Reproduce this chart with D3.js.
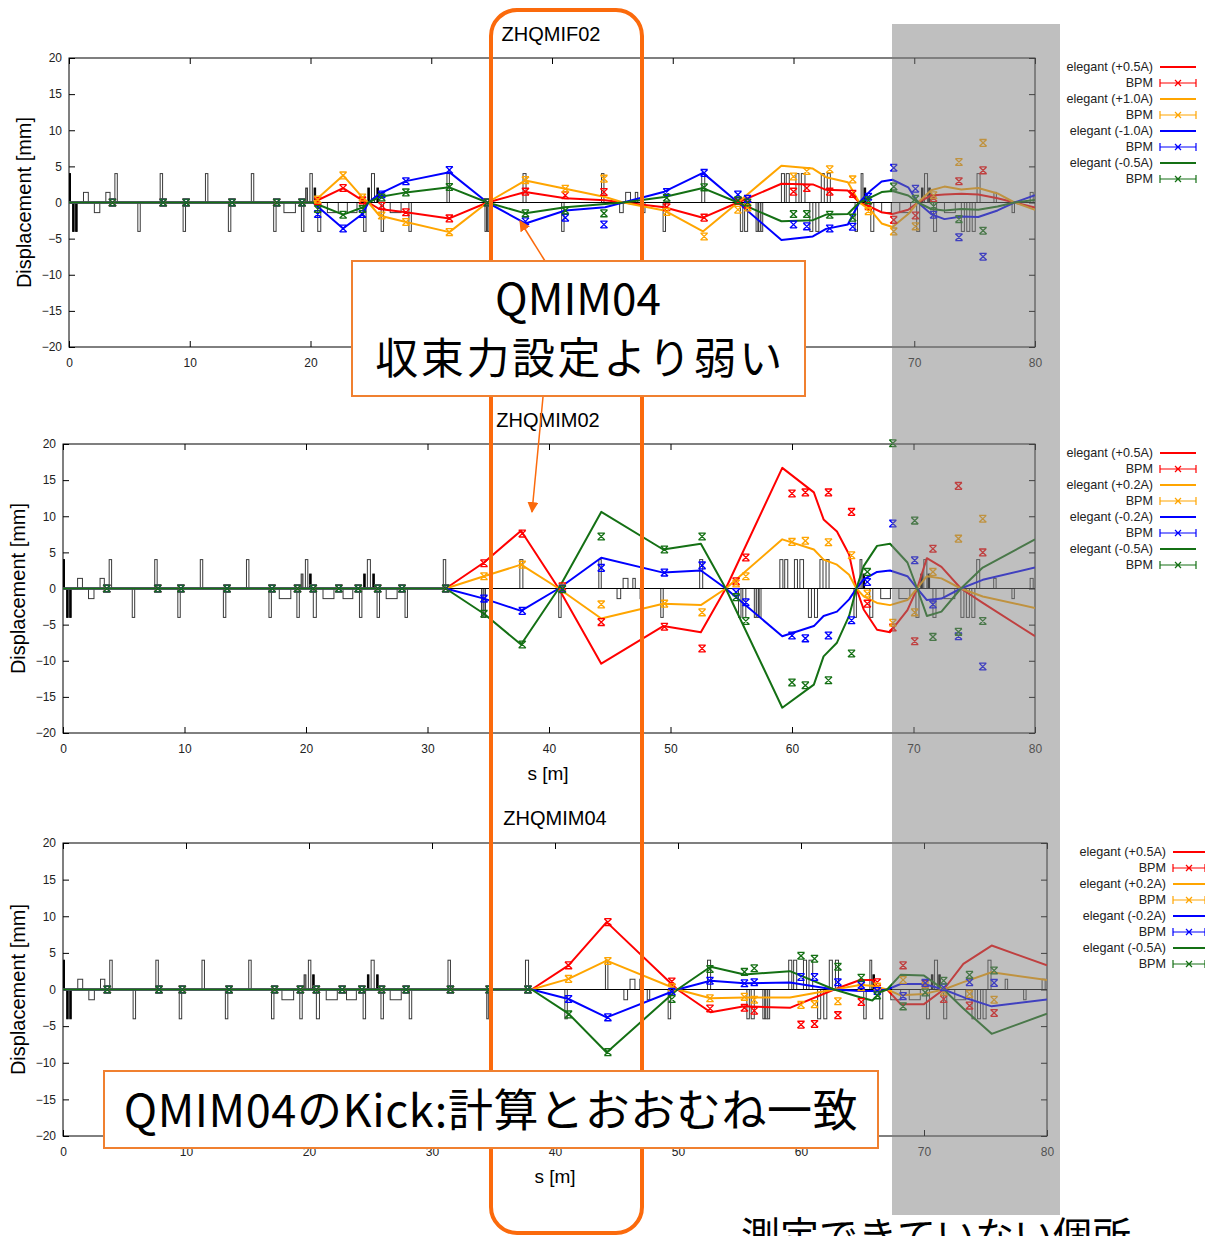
<!DOCTYPE html>
<html><head><meta charset="utf-8">
<script src="https://cdn.jsdelivr.net/npm/d3@7"></script>
<style>body{margin:0;background:#fff;} svg{display:block;}</style>
</head><body>
<svg id="c" width="1205" height="1236"></svg>
<script>
// ---------------- data ----------------
const seriesColors = ["#ff0000", "#ffa500", "#0000ff", "#147014"];
const legendLabels1 = ["elegant (+0.5A)", "elegant (+1.0A)", "elegant (-1.0A)", "elegant (-0.5A)"];
const legendLabels23 = ["elegant (+0.5A)", "elegant (+0.2A)", "elegant (-0.2A)", "elegant (-0.5A)"];
const panelTitles = ["ZHQMIF02", "ZHQMIM02", "ZHQMIM04"];
const xTicks = [0, 10, 20, 30, 40, 50, 60, 70, 80];
const xTickLabelsPanel1 = [0, 10, 20, 70, 80];   // 30-60 are hidden behind the note box
const yTicks = [-20, -15, -10, -5, 0, 5, 10, 15, 20];

// beamline elements (start s, end s, height in mm, kind)
const elemS0 = [0.0,0.3,0.55,1.2,2.1,3.05,3.8,5.7,7.55,9.45,11.3,13.2,15.1,16.95,17.8,19.25,19.6,19.95,20.3,20.6,21.4,23.05,24.4,24.75,25.05,25.5,25.85,26.6,28.15,31.3,34.45,34.65,37.6,40.8,44.1,45.6,46.1,46.9,47.5,49.2,52.4,55.6,55.95,56.9,57.1,57.3,59.0,59.4,60.2,60.65,61.35,61.85,62.3,62.8,65.1,65.6,65.85,66.4,67.3,68.8,70.2,70.6,70.85,71.2,71.6,72.5,73.9,74.35,74.8,75.2,76.6,78.1,79.6];
const elemS1 = [0.12,0.4,0.65,1.6,2.55,3.4,4.0,5.9,7.75,9.65,11.5,13.4,15.3,17.15,18.75,19.45,19.75,20.15,20.35,20.85,22.3,23.85,24.6,24.8,25.3,25.55,26.05,27.5,28.35,31.5,34.55,34.75,37.85,41.0,44.3,45.9,46.5,47.1,47.7,49.4,52.65,55.8,56.2,57.05,57.25,57.45,59.25,59.65,60.45,60.95,61.6,62.1,62.55,63.05,65.3,65.75,65.95,66.65,68.1,69.7,70.45,70.65,71.1,71.25,71.85,73.4,74.15,74.6,75.05,75.45,76.8,78.3,79.85];
const elemH = [4,-4,-4,1.4,-1.4,1.4,4,-4,4,-4,4,-4,4,-4,-1.4,-4,2,4,2,-4,-1.4,-1.4,-4,2,4,2,-4,-1.4,-4,4,-4,-4,4,-4,4,-1.4,1.4,1.4,-1.4,-4,4,-4,-4,-4,-4,-4,4,4,4,4,-4,-4,4,4,-4,4,2,-4,-1.4,-1.4,-4,2,4,2,-4,-1.4,-4,-4,-4,4,1.4,-1.4,1.4];
const elemKind = ["k","k","k","w","w","w","w","w","w","w","w","w","w","w","w","w","g","w","k","w","w","w","w","k","w","k",
  "w","w","w","w","w","w","w","w","w","w","w","w","w","w","w","w","w","w","w","w","w","w","w","w","w","w","w","w","w","w",
  "k","w","w","w","w","k","w","k","w","w","w","w","w","w","w","w","w"];

// BPM positions
const bpmS = [3.6,7.8,9.7,13.5,17.2,19.3,20.6,22.7,24.3,25.9,27.9,31.5,34.65,37.8,41.1,44.3,49.5,52.6,55.4,56.2,60.0,61.1,63.0,64.9,66.2,68.3,70.1,71.6,73.7,75.7];

// Panel 1 (ZHQMIF02) simulation
const sim1S = [0,20.2,22.7,24.3,24.8,25.7,27.9,31.5,34.65,37.8,41.1,44.4,45.9,49.3,52.5,55.4,59.0,61.6,62.7,64.5,65.45,66.4,67.3,68.2,69.5,70.3,71.4,72.5,73.9,75.3,76.9,78.3,80];
const sim1Red    = [0,0,2.0,0.3,0,-0.9,-1.35,-2.2,0,1.45,0.6,0.3,0,-0.65,-2.1,0,2.6,2.5,1.75,1.65,0,-0.65,-1.35,-1.6,-1.0,0,0.97,1.1,1.2,1.1,0.6,0,-0.7];
const sim1Orange = [0,0,3.75,0.7,0,-1.8,-2.7,-4.1,0,3.05,1.9,0.75,0,-1.1,-4.0,0,5.1,4.7,3.5,2.8,0,-1.1,-2.9,-3.4,-1.6,0,1.7,2.2,1.8,2.0,1.25,0,-1.0];
const sim1Blue   = [0,0,-3.6,-1.6,0,1.2,2.96,4.2,0,-2.9,-1.1,-0.65,0,1.5,4.1,0,-5.2,-4.7,-3.65,-3.05,0,1.67,2.9,3.15,2.1,0,-1.6,-2.3,-1.95,-2.0,-1.1,0,1.0];
const sim1Green  = [0,0,-1.67,-0.7,0,0.75,1.4,2.1,0,-1.5,-0.65,-0.2,0,0.75,2.0,0,-2.6,-2.45,-1.67,-1.6,0,0.7,1.45,1.6,0.97,0,-0.9,-1.1,-0.9,-1.0,-0.55,0,0.35];
// Panel 1 BPM
const bpm1Red    = [0,0,0,0,0,0,0.2,2.0,0.3,-0.45,-1.35,-2.2,0,1.5,1.0,1.45,-0.65,-2.1,0.2,-0.3,1.5,2.0,1.5,1.2,-0.5,-2.4,-1.8,0.6,2.95,4.45];
const bpm1Orange = [0,0,0,0,0,0,0.4,3.75,0.7,-1.8,-2.7,-4.1,0,3.1,1.9,3.3,-1.3,-4.7,-1.0,-0.7,3.6,4.35,4.6,3.2,-1.2,-4.0,-3.3,1.0,5.6,8.25];
const bpm1Blue   = [0,0,0,0,0,0,-1.6,-3.6,-1.6,1.1,2.95,4.5,0,-2.6,-2.1,-3.05,1.45,4.1,1.1,0.5,-3.05,-3.3,-3.6,-3.35,0.8,4.8,1.9,-1.7,-4.8,-7.5];
const bpm1Green  = [0,0,0,0,0,0,-0.9,-1.7,-0.9,0.7,1.4,2.15,0,-1.5,-1.1,-1.5,0.65,2.1,0.3,0,-1.6,-1.6,-1.7,-2.1,0.3,2.2,0.5,-0.5,-2.3,-3.9];

// Panel 2 (ZHQMIM02) simulation
const sim2S = [0,31.5,34.65,37.7,40.8,44.3,49.4,52.5,54.55,59.2,61.8,62.6,63.7,64.7,65.3,65.9,67.0,68.07,69.5,70.3,71.1,72.3,73.9,75.7,80];
const sim2Red    = [0,0,3.6,8.0,0,-10.4,-5.2,-6.05,0,16.7,13.3,9.56,7.9,4.7,0,-2.9,-5.7,-6.05,-3.0,0,4.2,3.0,0,-2.0,-6.6];
const sim2Orange = [0,0,1.7,3.3,0,-4.15,-2.1,-2.3,0,6.8,5.4,4.0,3.3,1.9,0,-1.1,-2.0,-2.3,-1.6,0,1.7,1.4,0,-1.1,-2.7];
const sim2Blue   = [0,0,-1.4,-3.1,0,4.25,2.2,2.5,0,-6.6,-5.2,-3.8,-3.2,-1.5,0,1.25,2.3,2.5,1.7,0,-1.6,-1.4,0,1.2,2.9];
const sim2Green  = [0,0,-3.5,-7.75,0,10.6,5.4,6.2,0,-16.5,-13.3,-9.4,-7.5,-3.8,0,3.1,5.9,6.2,3.6,0,-3.8,-3.2,0,2.9,6.8];
// Panel 2 BPM
const bpm2Red    = [0,0,0,0,0,0,0,0,0,0,0,0,3.5,7.6,0.3,-4.65,-5.3,-8.3,1.0,4.3,13.15,13.3,13.3,10.6,-2.1,-5.4,-7.3,5.5,14.2,5.0];
const bpm2Orange = [0,0,0,0,0,0,0,0,0,0,0,0,1.7,3.3,0.1,-2.2,-2.1,-3.3,0.7,1.7,6.45,6.6,6.4,4.6,-0.7,-4.75,-3.3,2.3,6.9,9.65];
const bpm2Blue   = [0,0,0,0,0,0,0,0,0,0,0,0,-1.4,-3.1,0,2.85,2.2,3.2,-0.5,-1.9,-6.5,-6.9,-6.5,-4.4,0.9,9.0,3.9,-2.2,-6.6,-10.8];
const bpm2Green  = [0,0,0,0,0,0,0,0,0,0,0,0,-3.5,-7.75,-0.1,7.2,5.4,7.2,-1.2,-4.5,-13.0,-13.4,-12.7,-9.0,2.3,20.1,9.4,-6.7,-6.0,-4.5];

// Panel 3 (ZHQMIM04) simulation
const sim3S = [0,38.1,41.1,44.2,49.95,52.65,55.4,59.1,62.7,64.8,65.8,66.5,67.0,68.1,70.0,71.6,73.2,75.5,80];
const sim3Red    = [0,0,3.3,9.2,0,-3.1,-2.3,-2.5,0,1.3,1.3,-0.2,0,-2.0,-2.0,0,3.5,6.0,3.3];
const sim3Orange = [0,0,1.45,3.95,0,-1.2,-1.1,-1.1,0,0.6,0.5,0.2,0,-0.8,-0.6,0,1.0,2.35,1.3];
const sim3Blue   = [0,0,-1.3,-3.8,0,1.2,0.85,0.95,0,-0.2,-0.2,-0.1,0,0.75,0.75,0,-1.05,-2.3,-1.35];
const sim3Green  = [0,0,-3.3,-8.6,0,3.1,2.05,2.5,0,-1.05,-1.5,-0.3,0,2.0,1.9,0,-2.6,-6.05,-3.3];
// Panel 3 BPM
const bpm3Red    = [0,0,0,0,0,0,0,0,0,0,0,0,0,0,3.3,9.2,1.1,-2.6,-2.5,-2.9,-4.8,-4.7,-3.5,-1.7,1.0,3.3,0.8,-1.3,-2.2,-3.2];
const bpm3Orange = [0,0,0,0,0,0,0,0,0,0,0,0,0,0,1.45,3.9,0.3,-1.2,-1.0,-1.4,-2.1,-2.0,-1.6,0.3,0.4,1.3,0.5,-0.3,-0.6,-1.4];
const bpm3Blue   = [0,0,0,0,0,0,0,0,0,0,0,0,0,0,-1.3,-3.8,-0.3,1.2,0.85,1.0,1.7,1.7,1.0,0.6,-0.2,-0.9,0.9,0.3,1.0,0.9];
const bpm3Green  = [0,0,0,0,0,0,0,0,0,0,0,0,0,0,-3.4,-8.55,-1.3,2.8,2.4,2.9,4.6,4.2,3.1,1.6,-0.8,-2.3,-0.4,1.2,2.0,2.6];

const annot1Lines = ["QMIM04", "収束力設定より弱い"];
const annot2Text = "QMIM04のKick:計算とおおむね一致";
const bottomNote = "測定できていない個所";

// ---------------- drawing ----------------
const svg = d3.select("#c");
const tickFont = "'Liberation Sans Narrow','Liberation Sans',Arial,sans-serif";
const textFont = "'Liberation Sans',Arial,sans-serif";
const jpFont = "'Noto Sans CJK JP','Noto Sans CJK SC',sans-serif";

const panels = [
  {id:1, L:69, R:1035, T:58, B:347, title:panelTitles[0], tx:551, ty:41, ylx:24, xlabel:null, xLab:xTickLabelsPanel1,
   S:sim1S, sim:[sim1Red,sim1Orange,sim1Blue,sim1Green], bpm:[bpm1Red,bpm1Orange,bpm1Blue,bpm1Green],
   leg:legendLabels1, legR:1153, legY:67, sx0:1160, sx1:1196},
  {id:2, L:63, R:1035, T:444, B:733, title:panelTitles[1], tx:548, ty:427, ylx:18, xlabel:{x:548,y:780}, xLab:xTicks,
   S:sim2S, sim:[sim2Red,sim2Orange,sim2Blue,sim2Green], bpm:[bpm2Red,bpm2Orange,bpm2Blue,bpm2Green],
   leg:legendLabels23, legR:1153, legY:453, sx0:1160, sx1:1196},
  {id:3, L:63, R:1047, T:843, B:1136, title:panelTitles[2], tx:555, ty:825, ylx:18, xlabel:{x:555,y:1183}, xLab:xTicks,
   S:sim3S, sim:[sim3Red,sim3Orange,sim3Blue,sim3Green], bpm:[bpm3Red,bpm3Orange,bpm3Blue,bpm3Green],
   leg:legendLabels23, legR:1166, legY:852, sx0:1173, sx1:1205}
];

function markerPath(cx, cy, w, h) {
  return `M${cx-w},${cy-h}L${cx+w},${cy+h}M${cx-w},${cy+h}L${cx+w},${cy-h}` +
         `M${cx-w},${cy-h}L${cx+w},${cy-h}M${cx-w},${cy+h}L${cx+w},${cy+h}`;
}

panels.forEach(p => {
  const x = d3.scaleLinear().domain([0, 80]).range([p.L, p.R]);
  const y = d3.scaleLinear().domain([-20, 20]).range([p.B, p.T]);
  const g = svg.append("g");
  const cid = "clip" + p.id;
  svg.append("clipPath").attr("id", cid).append("rect")
    .attr("x", p.L).attr("y", p.T - 5).attr("width", p.R - p.L).attr("height", p.B - p.T + 10);

  // elements
  const eg = g.append("g").attr("clip-path", `url(#${cid})`);
  elemS0.forEach((s0, i) => {
    const h = elemH[i];
    const xa = x(s0), xb = Math.max(x(elemS1[i]), xa + 1.5);
    const ya = y(Math.max(h, 0)), yb = y(Math.min(h, 0));
    const k = elemKind[i];
    eg.append("rect").attr("x", xa).attr("y", ya).attr("width", xb - xa).attr("height", yb - ya)
      .attr("fill", k === "k" ? "#000" : (k === "g" ? "#888" : "#fff"))
      .attr("stroke", k === "k" ? "#000" : "#3a3a3a").attr("stroke-width", 1);
  });
  // baseline
  eg.append("line").attr("x1", p.L).attr("x2", p.R).attr("y1", y(0)).attr("y2", y(0))
    .attr("stroke", "#000").attr("stroke-width", 1.2);

  // frame + axes
  g.append("rect").attr("x", p.L).attr("y", p.T).attr("width", p.R - p.L).attr("height", p.B - p.T)
    .attr("fill", "none").attr("stroke", "#000").attr("stroke-width", 1);
  const axL = g.append("g").attr("transform", `translate(${p.L},0)`)
    .call(d3.axisLeft(y).tickValues(yTicks).tickSizeInner(-6).tickSizeOuter(0).tickPadding(7).tickFormat(d3.format("d")));
  const axR = g.append("g").attr("transform", `translate(${p.R},0)`)
    .call(d3.axisRight(y).tickValues(yTicks).tickSizeInner(-6).tickSizeOuter(0).tickFormat(""));
  const axT = g.append("g").attr("transform", `translate(0,${p.T})`)
    .call(d3.axisTop(x).tickValues(xTicks).tickSizeInner(-6).tickSizeOuter(0).tickFormat(""));
  const axB = g.append("g").attr("transform", `translate(0,${p.B})`)
    .call(d3.axisBottom(x).tickValues(xTicks).tickSizeInner(-6).tickSizeOuter(0).tickPadding(11)
      .tickFormat(d => p.xLab.includes(d) ? d3.format("d")(d) : ""));
  [axL, axR, axT, axB].forEach(a => {
    a.select(".domain").remove();
    a.selectAll("line").attr("stroke", "#000");
    a.selectAll("text").attr("font-family", tickFont).attr("font-size", 12).attr("fill", "#222");
  });

  // simulation lines
  const lg = g.append("g").attr("clip-path", `url(#${cid})`);
  const line = d3.line().x(d => x(d[0])).y(d => y(d[1]));
  p.sim.forEach((vals, k) => {
    lg.append("path").datum(p.S.map((s, i) => [s, vals[i]]))
      .attr("d", line).attr("fill", "none").attr("stroke", seriesColors[k])
      .attr("stroke-width", 2).attr("stroke-linejoin", "round");
  });
  // BPM markers
  p.bpm.forEach((vals, k) => {
    lg.append("path")
      .attr("d", bpmS.map((s, i) => markerPath(x(s), y(vals[i]), 3.6, 3.4)).join(""))
      .attr("fill", "none").attr("stroke", seriesColors[k]).attr("stroke-width", 1.3);
  });

  // title
  svg.append("text").attr("x", p.tx).attr("y", p.ty).attr("text-anchor", "middle")
    .attr("font-family", textFont).attr("font-size", 20).attr("fill", "#000").text(p.title);
  // y label
  svg.append("text").attr("transform", `translate(${p.ylx},${(p.T + p.B) / 2}) rotate(-90)`)
    .attr("text-anchor", "middle").attr("dy", "0.35em")
    .attr("font-family", textFont).attr("font-size", 20).attr("fill", "#000").text("Displacement [mm]");
  if (p.xlabel) {
    svg.append("text").attr("x", p.xlabel.x).attr("y", p.xlabel.y).attr("text-anchor", "middle")
      .attr("font-family", textFont).attr("font-size", 19).attr("fill", "#000").text("s [m]");
  }
  // legend
  const leg = svg.append("g");
  p.leg.forEach((lab, k) => {
    const y1 = p.legY + k * 32, y2 = y1 + 16;
    leg.append("text").attr("x", p.legR).attr("y", y1).attr("dy", "0.35em").attr("text-anchor", "end")
      .attr("font-family", textFont).attr("font-size", 12.6).attr("fill", "#222").text(lab);
    leg.append("line").attr("x1", p.sx0).attr("x2", p.sx1).attr("y1", y1).attr("y2", y1)
      .attr("stroke", seriesColors[k]).attr("stroke-width", 2);
    leg.append("text").attr("x", p.legR).attr("y", y2).attr("dy", "0.35em").attr("text-anchor", "end")
      .attr("font-family", textFont).attr("font-size", 12.6).attr("fill", "#222").text("BPM");
    const mx = (p.sx0 + p.sx1) / 2;
    leg.append("path")
      .attr("d", `M${p.sx0},${y2}L${p.sx1},${y2}M${p.sx0},${y2-4}L${p.sx0},${y2+4}M${p.sx1},${y2-4}L${p.sx1},${y2+4}` +
                 `M${mx-3},${y2-3}L${mx+3},${y2+3}M${mx-3},${y2+3}L${mx+3},${y2-3}`)
      .attr("fill", "none").attr("stroke", seriesColors[k]).attr("stroke-width", 1.2);
  });
});

// grey "not measured" overlay
svg.append("rect").attr("x", 892).attr("y", 24).attr("width", 168).attr("height", 1191)
  .attr("fill", "rgb(128,128,128)").attr("fill-opacity", 0.5);

// orange rounded frame
const orange = "#fb6a0c";
svg.append("rect").attr("x", 491).attr("y", 10).attr("width", 151).attr("height", 1223)
  .attr("rx", 26).attr("ry", 26).attr("fill", "none").attr("stroke", orange).attr("stroke-width", 4);

// arrows
const defs = svg.append("defs");
defs.append("marker").attr("id", "ah").attr("viewBox", "0 0 10 10").attr("refX", 9).attr("refY", 5)
  .attr("markerWidth", 11).attr("markerHeight", 11).attr("markerUnits", "userSpaceOnUse")
  .attr("orient", "auto").append("path").attr("d", "M0,0L10,5L0,10Z").attr("fill", orange);
svg.append("line").attr("x1", 545).attr("y1", 261).attr("x2", 520).attr("y2", 221)
  .attr("stroke", orange).attr("stroke-width", 1.5).attr("marker-end", "url(#ah)");
svg.append("line").attr("x1", 543).attr("y1", 397).attr("x2", 532).attr("y2", 512)
  .attr("stroke", orange).attr("stroke-width", 1.5).attr("marker-end", "url(#ah)");

// annotation box 1
svg.append("rect").attr("x", 352).attr("y", 261).attr("width", 453).attr("height", 135)
  .attr("fill", "#fff").attr("stroke", "#f08030").attr("stroke-width", 2);
svg.append("text").attr("x", 578).attr("y", 315).attr("text-anchor", "middle")
  .attr("font-family", jpFont).attr("font-size", 44).attr("fill", "#000").text(annot1Lines[0]);
svg.append("text").attr("x", 580).attr("y", 374).attr("text-anchor", "middle")
  .attr("font-family", jpFont).attr("font-size", 43).attr("letter-spacing", 2.6)
  .attr("fill", "#000").text(annot1Lines[1]);

// annotation box 2
svg.append("rect").attr("x", 104).attr("y", 1071).attr("width", 774).attr("height", 77)
  .attr("fill", "#fff").attr("stroke", "#f08030").attr("stroke-width", 2);
svg.append("text").attr("x", 491).attr("y", 1127).attr("text-anchor", "middle")
  .attr("font-family", jpFont).attr("font-size", 45).attr("letter-spacing", 0.6)
  .attr("fill", "#000").text(annot2Text);

// bottom note (partly below the page edge, as in the original)
svg.append("text").attr("x", 741).attr("y", 1250)
  .attr("font-family", jpFont).attr("font-size", 39).attr("fill", "#000").text(bottomNote);
</script>
</body></html>
